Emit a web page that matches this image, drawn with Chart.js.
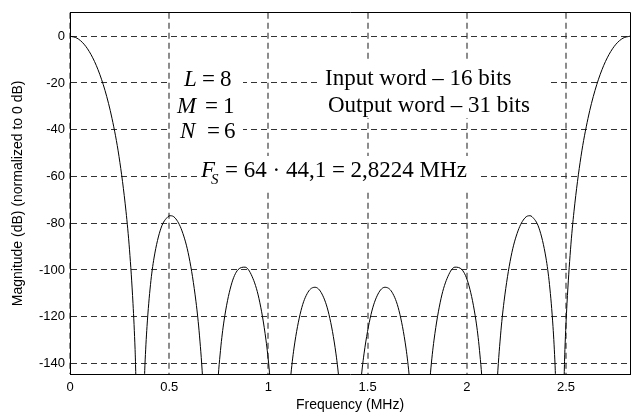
<!DOCTYPE html>
<html>
<head>
<meta charset="utf-8">
<script src="https://cdn.jsdelivr.net/npm/chart.js@4.4.1/dist/chart.umd.min.js"></script>
<style>
body { margin: 0; background: #fff; }
#wrap { width: 635px; height: 419px; }
</style>
</head>
<body>
<div id="wrap"><canvas id="myChart" width="635" height="419"></canvas></div>
<script>
// magnitude response, MHz / dB
var freqs = [
    0, 0.0353, 0.0706, 0.1058, 0.1411, 0.1764, 0.2117, 0.2470, 0.2822, 0.2999, 0.3175, 0.3281, 0.3352,
    0.3704, 0.3775, 0.3881, 0.4057, 0.4234, 0.4586, 0.4939, 0.5045, 0.5292, 0.5645, 0.5998, 0.6350, 0.6527, 0.6703, 0.6880,
    0.7232, 0.7409, 0.7585, 0.7762, 0.8114, 0.8467, 0.8820, 0.9173, 0.9526, 0.9878, 1.0055, 1.0231, 1.0408,
    1.0760, 1.0937, 1.1113, 1.1290, 1.1642, 1.1995, 1.2348, 1.2701, 1.3054, 1.3406, 1.3583, 1.3759, 1.3936,
    1.4288, 1.4465, 1.4641, 1.4818, 1.5170, 1.5523, 1.5876, 1.6229, 1.6582, 1.6934, 1.7111, 1.7287, 1.7464,
    1.7816, 1.7993, 1.8169, 1.8346, 1.8698, 1.9051, 1.9404, 1.9757, 2.0110, 2.0462, 2.0639, 2.0815, 2.0992,
    2.1344, 2.1521, 2.1697, 2.1874, 2.2226, 2.2579, 2.2932, 2.3179, 2.3285, 2.3638, 2.3990, 2.4167, 2.4343, 2.4449, 2.4520,
    2.4872, 2.4943, 2.5049, 2.5225, 2.5402, 2.5754, 2.6107, 2.6460, 2.6813, 2.7166, 2.7518, 2.7871, 2.8224
];
var mags = [
    0, -0.85, -3.42, -7.84, -14.31, -23.20, -35.17, -51.45, -74.86, -91.37, -114.28, -134.07, -152.45,
    -157.4, -141.0, -124.2, -106.3, -94.9, -82.1, -77.2, -76.8, -77.7, -83.3, -94.4, -113.6, -128.2, -149.4, -185.9,
    -188.0, -153.5, -134.4, -121.8, -106.8, -99.9, -98.8, -102.7, -112.3, -130.0, -144.0, -164.6, -200.5,
    -201.0, -166.2, -146.6, -133.4, -117.4, -109.5, -107.4, -110.3, -119.1, -135.9, -149.4, -169.5, -205.0,
    -205.0, -169.5, -149.4, -135.9, -119.1, -110.3, -107.4, -109.5, -117.4, -133.4, -146.6, -166.2, -201.0,
    -200.5, -164.6, -144.0, -130.0, -112.3, -102.7, -98.8, -99.9, -106.8, -121.8, -134.4, -153.5, -188.0,
    -185.9, -149.4, -128.2, -113.6, -94.4, -83.3, -77.7, -76.8, -77.2, -82.1, -94.9, -106.3, -124.2, -141.0, -157.4,
    -152.45, -134.07, -114.28, -91.37, -74.86, -51.45, -35.17, -23.20, -14.31, -7.84, -3.42, -0.85, 0
];
var xTicks = [0, 0.5, 1, 1.5, 2, 2.5];
var yTicks = [-140, -120, -100, -80, -60, -40, -20, 0];
var xTitle = "Frequency (MHz)";
var yTitle = "Magnitude (dB) (normalized to 0 dB)";
var params = [["L", "8"], ["M", "1"], ["N", "6"]];
var wordLines = ["Input word \u2013 16 bits", "Output word \u2013 31 bits"];
var fsText = "= 64 \u00b7 44,1 = 2,8224 MHz";

var serif = '"Liberation Serif", "Times New Roman", serif';
var sans = '"Liberation Sans", Arial, sans-serif';

function toPoints (xs, ys) {
    var pts = [];
    for (var i = 0; i < xs.length; i++) {
        pts.push({x: xs[i], y: ys[i]});
    }
    return pts;
}

function whiteBox (ctx, x, y, w, h) {
    ctx.fillStyle = '#fff';
    ctx.fillRect(x, y, w, h);
}

var notesPlugin = {
    id: 'notes',
    afterDraw: function (chart) {
        var ctx = chart.ctx;
        var a = chart.chartArea;
        ctx.save();

        // top and right edges of the box
        ctx.strokeStyle = '#000';
        ctx.lineWidth = 1;
        ctx.beginPath();
        ctx.moveTo(Math.floor(a.left) + 0.5, Math.floor(a.top) + 0.5);
        ctx.lineTo(Math.floor(a.right) + 0.5, Math.floor(a.top) + 0.5);
        ctx.lineTo(Math.floor(a.right) + 0.5, Math.floor(a.bottom) + 0.5);
        ctx.stroke();

        whiteBox(ctx, 171, 64, 72, 79);
        whiteBox(ctx, 320, 62, 227, 56);
        whiteBox(ctx, 197, 156, 282, 34);

        ctx.fillStyle = '#000';
        ctx.textBaseline = 'alphabetic';
        ctx.textAlign = 'left';

        var varX = [184, 177, 180], eqX = [202, 205, 207], valX = [220, 223, 224], rowY = [86, 113, 138];
        params.forEach(function (p, i) {
            ctx.font = 'italic 23px ' + serif;
            ctx.fillText(p[0], varX[i], rowY[i]);
            ctx.font = '23px ' + serif;
            ctx.fillText("=", eqX[i], rowY[i]);
            ctx.fillText(p[1], valX[i], rowY[i]);
        });

        ctx.font = '23px ' + serif;
        ctx.fillText(wordLines[0], 325, 85);
        ctx.fillText(wordLines[1], 328, 112);

        ctx.font = 'italic 23px ' + serif;
        ctx.fillText("F", 201, 177);
        ctx.font = 'italic 15px ' + serif;
        ctx.fillText("S", 211, 184);
        ctx.font = '23px ' + serif;
        ctx.fillText(fsText, 225, 177);

        ctx.restore();
    }
};

var tickFont = {family: sans, size: 13};
var titleFont = {family: sans, size: 14};

var config = {
    type: 'line',
    data: {
        datasets: [{
            data: toPoints(freqs, mags),
            borderColor: '#000',
            borderWidth: 1,
            pointRadius: 0,
            fill: false,
            cubicInterpolationMode: 'monotone'
        }]
    },
    options: {
        responsive: false,
        animation: false,
        devicePixelRatio: 1,
        layout: {padding: {left: 0, top: 9, right: 5, bottom: 0}},
        plugins: {legend: {display: false}, tooltip: {enabled: false}},
        scales: {
            x: {
                type: 'linear',
                min: 0,
                max: 2.8224,
                afterBuildTicks: function (s) { s.ticks = xTicks.map(function (v) { return {value: v}; }); },
                afterFit: function (s) { s.height = 45; },
                grid: {color: '#8c8c8c', lineWidth: 2, drawTicks: false},
                border: {color: '#000', width: 1, dash: [6, 4]},
                ticks: {color: '#000', font: tickFont, padding: 6, maxRotation: 0,
                    callback: function (v) { return String(v); }},
                title: {display: true, text: xTitle, color: '#000', font: titleFont, padding: {top: 0, bottom: 5}}
            },
            y: {
                type: 'linear',
                min: -144.5,
                max: 10,
                afterBuildTicks: function (s) { s.ticks = yTicks.map(function (v) { return {value: v}; }); },
                afterFit: function (s) { s.width = 70; },
                grid: {color: '#333', lineWidth: 1, drawTicks: false},
                border: {color: '#000', width: 1, dash: [6, 4]},
                ticks: {color: '#000', font: tickFont, padding: 5,
                    callback: function (v) { return String(v); }},
                title: {display: true, text: yTitle, color: '#000', font: titleFont, padding: {top: 10, bottom: 0}}
            }
        }
    },
    plugins: [notesPlugin]
};

var ctx1 = document.getElementById('myChart').getContext('2d');
window.myChart = new Chart(ctx1, config);
</script>
</body>
</html>
